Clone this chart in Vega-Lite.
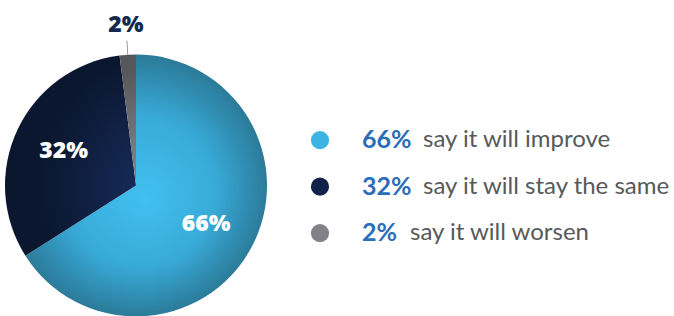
{
  "$schema": "https://vega.github.io/schema/vega-lite/v6.json",
  "padding": {"left": 5, "top": 13, "right": 0, "bottom": 0},
  "background": "white",
  "config": {"view": {"stroke": null}, "concat": {"spacing": 43}},
  "data": {"values": [
    {"key": "improve", "value": 66, "label": "66%", "desc": "say it will improve", "order": 1},
    {"key": "same", "value": 32, "label": "32%", "desc": "say it will stay the same", "order": 2},
    {"key": "worsen", "value": 2, "label": "2%", "desc": "say it will worsen", "order": 3}
  ]},
  "hconcat": [
    {
      "width": 262,
      "height": 261,
      "transform": [
        {"stack": "value", "groupby": [], "sort": [{"field": "order"}], "as": ["t0", "t1"]},
        {"calculate": "(datum.t0 + datum.t1) / 2", "as": "tm"},
        {"calculate": "datum.tm - 0.05", "as": "tl0"},
        {"calculate": "datum.tm + 0.05", "as": "tl1"}
      ],
      "layer": [
        {
          "transform": [{"filter": "datum.key == 'improve'"}],
          "mark": {"type": "arc", "outerRadius": 131, "fill": {"gradient": "radial", "x1": 0.5, "y1": 0.55, "r1": 0, "x2": 0.46, "y2": 0.5, "r2": 0.52,
            "stops": [{"offset": 0, "color": "#42c0f0"}, {"offset": 0.55, "color": "#38aad8"}, {"offset": 1, "color": "#2a7693"}]}},
          "encoding": {"theta": {"field": "t0", "type": "quantitative", "scale": {"domain": [0, 100]}}, "theta2": {"field": "t1"}}
        },
        {
          "transform": [{"filter": "datum.key == 'same'"}],
          "mark": {"type": "arc", "outerRadius": 131, "fill": {"gradient": "radial", "x1": 0.95, "y1": 0.65, "r1": 0, "x2": 1, "y2": 0.65, "r2": 0.66,
            "stops": [{"offset": 0, "color": "#172e60"}, {"offset": 1, "color": "#0b172f"}]}},
          "encoding": {"theta": {"field": "t0", "type": "quantitative", "scale": {"domain": [0, 100]}}, "theta2": {"field": "t1"}}
        },
        {
          "transform": [{"filter": "datum.key == 'worsen'"}],
          "mark": {"type": "arc", "outerRadius": 131, "fill": {"gradient": "radial", "x1": 1, "y1": 1, "r1": 0, "x2": 1, "y2": 1, "r2": 1,
            "stops": [{"offset": 0, "color": "#9da0a4"}, {"offset": 1, "color": "#55575a"}]}},
          "encoding": {"theta": {"field": "t0", "type": "quantitative", "scale": {"domain": [0, 100]}}, "theta2": {"field": "t1"}}
        },
        {
          "transform": [{"filter": "datum.key == 'worsen'"}],
          "mark": {"type": "arc", "innerRadius": 131, "outerRadius": 145, "fill": "#8a8c8f"},
          "encoding": {"theta": {"field": "tl0", "type": "quantitative", "scale": {"domain": [0, 100]}}, "theta2": {"field": "tl1"}}
        },
        {
          "transform": [{"filter": "datum.key != 'worsen'"}],
          "mark": {"type": "text", "radius": 80, "font": "Open Sans", "fontWeight": 800, "fontSize": 23, "color": "white", "align": "center", "baseline": "middle"},
          "encoding": {"theta": {"field": "tm", "type": "quantitative", "scale": {"domain": [0, 100]}}, "text": {"field": "label"}}
        },
        {
          "transform": [{"filter": "datum.key == 'worsen'"}],
          "mark": {"type": "text", "radius": 161, "font": "Open Sans", "fontWeight": 800, "fontSize": 23, "color": "#13294f", "align": "center", "baseline": "middle"},
          "encoding": {"theta": {"field": "tm", "type": "quantitative", "scale": {"domain": [0, 100]}}, "text": {"field": "label"}}
        }
      ]
    },
    {
      "width": 364,
      "height": 261,
      "transform": [{"calculate": "length(datum.label)", "as": "nch"}],
      "encoding": {
        "y": {"field": "order", "type": "quantitative", "scale": {"domain": [-0.83, 4.78], "reverse": true}, "axis": null}
      },
      "resolve": {"scale": {"x": "independent"}},
      "layer": [
        {
          "mark": {"type": "circle", "size": 330, "opacity": 1},
          "encoding": {
            "x": {"datum": 10, "type": "quantitative", "scale": {"domain": [0, 364]}, "axis": null},
            "color": {"field": "key", "type": "nominal", "scale": {"domain": ["improve", "same", "worsen"], "range": ["#3bb4e3", "#0f2149", "#808285"]}, "legend": null}
          }
        },
        {
          "mark": {"type": "text", "align": "left", "baseline": "middle", "font": "Lato", "fontWeight": "bold", "fontSize": 25, "color": "#2b6db8"},
          "encoding": {
            "x": {"datum": 52, "type": "quantitative", "scale": {"domain": [0, 364]}, "axis": null},
            "text": {"field": "label"}
          }
        },
        {
          "mark": {"type": "text", "align": "left", "baseline": "middle", "font": "Lato", "fontSize": 24, "color": "#58595b"},
          "encoding": {
            "x": {"field": "nch", "type": "quantitative", "scale": {"domain": [2, 3], "range": [100, 113]}, "axis": null},
            "text": {"field": "desc"}
          }
        }
      ]
    }
  ]
}
